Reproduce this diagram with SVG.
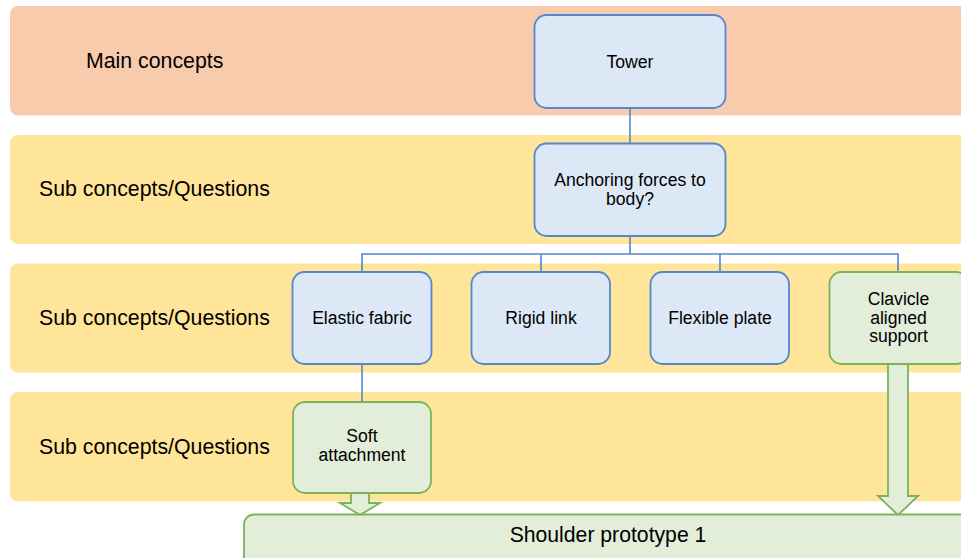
<svg xmlns="http://www.w3.org/2000/svg" width="961" height="558" viewBox="0 0 961 558">
<style>
  .band-main { fill: #f8cbad; }
  .band-sub { fill: #ffe599; }
  .lbl { font-family: "Liberation Sans", Arial, sans-serif; font-size: 21.3px; fill: #000; }
  .blue { fill: #dce8f5; stroke: #5686cc; stroke-width: 1.8; }
  .green { fill: #e2eed9; stroke: #7cb25a; stroke-width: 1.8; }
  .txt { font-family: "Liberation Sans", Arial, sans-serif; font-size: 17.6px; fill: #000; text-anchor: middle; }
  .big { font-family: "Liberation Sans", Arial, sans-serif; font-size: 21.2px; fill: #000; text-anchor: middle; }
  .conn { fill: none; stroke: #5686cc; stroke-width: 1.6; }
  .barrow { fill: #e2eed9; stroke: #7cb25a; stroke-width: 1.8; stroke-linejoin: miter; }
</style>
<rect width="961" height="558" fill="#ffffff"/>

<g id="bands">
  <rect class="band-main" x="10" y="6" width="980" height="109.5" rx="8"/>
  <rect class="band-sub" x="10" y="135" width="980" height="109" rx="8"/>
  <rect class="band-sub" x="10" y="263.5" width="980" height="109" rx="8"/>
  <rect class="band-sub" x="10" y="392" width="980" height="109.5" rx="8"/>
  <text class="lbl" x="86" y="68">Main concepts</text>
  <text class="lbl" x="39" y="196">Sub concepts/Questions</text>
  <text class="lbl" x="39" y="325">Sub concepts/Questions</text>
  <text class="lbl" x="39" y="453.5">Sub concepts/Questions</text>
</g>

<g id="connectors">
  <path class="conn" d="M630 108.5 V143.5"/>
  <path class="conn" d="M630 236 V254 M362 272 V254 H898 V272 M541 254 V272 M720 254 V272"/>
  <path class="conn" d="M362 364 V402"/>
  <polygon class="barrow" points="351,493 369,493 369,503 380,503 360,515 340,503 351,503"/>
  <polygon class="barrow" points="888,364 908,364 908,496 918,496 898,515 878,496 888,496"/>
</g>

<g id="node-tower">
  <rect class="blue" x="534.5" y="15" width="191" height="93" rx="12"/>
  <text class="txt" x="630" y="67.5">Tower</text>
</g>

<g id="node-anchoring">
  <rect class="blue" x="534.5" y="143.5" width="191" height="92.5" rx="12"/>
  <text class="txt" x="630" y="186">Anchoring forces to</text>
  <text class="txt" x="630" y="205">body?</text>
</g>

<g id="node-elastic">
  <rect class="blue" x="292.5" y="272" width="139" height="92" rx="12"/>
  <text class="txt" x="362" y="324">Elastic fabric</text>
</g>

<g id="node-rigid">
  <rect class="blue" x="471.5" y="272" width="138.5" height="92" rx="12"/>
  <text class="txt" x="541" y="324">Rigid link</text>
</g>

<g id="node-flexible">
  <rect class="blue" x="650.5" y="272" width="138.5" height="92" rx="12"/>
  <text class="txt" x="720" y="324">Flexible plate</text>
</g>

<g id="node-clavicle">
  <rect class="green" x="829.5" y="272" width="138.5" height="92" rx="12"/>
  <text class="txt" x="898.5" y="305">Clavicle</text>
  <text class="txt" x="898.5" y="323.5">aligned</text>
  <text class="txt" x="898.5" y="342">support</text>
</g>

<g id="node-soft">
  <rect class="green" x="293" y="402" width="138" height="91" rx="12"/>
  <text class="txt" x="362" y="442">Soft</text>
  <text class="txt" x="362" y="461">attachment</text>
</g>

<g id="node-shoulder">
  <rect class="green" x="244" y="514.5" width="730" height="60" rx="10"/>
  <text class="big" x="608" y="542">Shoulder prototype 1</text>
</g>
</svg>
